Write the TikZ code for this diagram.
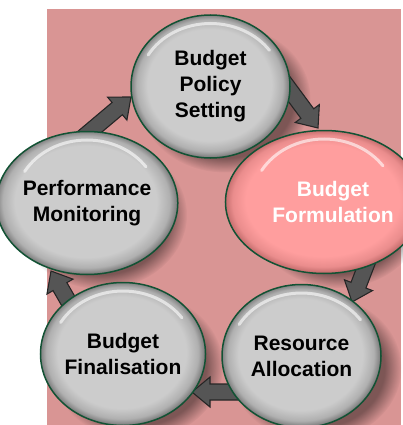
\documentclass[tikz,border=0pt]{standalone}
\usepackage{fontspec}
\setmainfont{Liberation Sans}
\usetikzlibrary{shapes.geometric,calc,fadings}
\definecolor{bgpink}{RGB}{217,149,148}
\definecolor{ballgray}{RGB}{204,204,204}
\definecolor{balldark}{RGB}{110,110,110}
\definecolor{pinkball}{RGB}{255,158,158}
\definecolor{pinkdark}{RGB}{185,100,100}
\definecolor{rimgreen}{RGB}{18,82,52}
\definecolor{arrowgray}{RGB}{85,85,85}
\pgfdeclareradialshading{grayball}{\pgfpoint{-1bp}{1.5bp}}{color(0bp)=(ballgray); color(19.5bp)=(ballgray); color(23bp)=(ballgray!70!balldark); color(25.5bp)=(balldark); color(30bp)=(balldark)}
\pgfdeclareradialshading{pinkballsh}{\pgfpoint{-1bp}{1.5bp}}{color(0bp)=(pinkball); color(19.5bp)=(pinkball); color(23bp)=(pinkball!70!pinkdark); color(25.5bp)=(pinkdark); color(30bp)=(pinkdark)}
\newcommand\blockarr[2]{%
  \path ($(#2)!18pt!(#1)$) coordinate (hb);
  \draw[blockarrow] ($(#1)!8pt!-90:(#2)$) -- ($(hb)!8pt!-90:(#2)$) -- ($(hb)!15pt!-90:(#2)$) -- (#2)
    -- ($(hb)!15pt!90:(#2)$) -- ($(hb)!8pt!90:(#2)$) -- ($(#1)!8pt!90:(#2)$) -- cycle;}
\newcommand\ballshine[1]{%
  \draw[white,opacity=.6,line width=3pt,line cap=round]
    ($(#1.center)+(150:72pt and 63pt)$) arc[start angle=150,end angle=35,x radius=72pt,y radius=63pt];}
\tikzset{
  ball/.style={ellipse,minimum width=159pt,minimum height=143pt,inner sep=0pt,
    draw=rimgreen,line width=1.5pt,shading=grayball,align=center,
    font=\bfseries\fontsize{21}{26}\selectfont,text=black},
  pinkb/.style={ball,shading=pinkballsh,text=white},
  blockarrow/.style={fill=arrowgray,draw=black!85,line width=1.1pt,line join=miter},
  ballshade/.style={black,opacity=.42,path fading=circle with fuzzy edge 20 percent}
}
\begin{document}
\begin{tikzpicture}[x=1pt,y=-1pt]
\useasboundingbox (0,0) rectangle (403,425);
\fill[bgpink] (47,9) rectangle (401,425);
% centres of the five balls
\coordinate (c1) at (210.5,86.5);
\coordinate (c2) at (324,202);
\coordinate (c3) at (301.5,356);
\coordinate (c4) at (123,354);
\coordinate (c5) at (87,203);
% shadows
\foreach \c in {c1,c2,c3,c4,c5}{
  \fill[ballshade] ($(\c)+(14pt,-12pt)$) ellipse[x radius=86pt,y radius=74pt];}
% arrows
\coordinate (a1s) at (278,74);  \coordinate (a1t) at (318,128);
\coordinate (a2s) at (372,250); \coordinate (a2t) at (352,302);
\coordinate (a3s) at (245,392); \coordinate (a3t) at (192,392);
\coordinate (a4s) at (78,318);  \coordinate (a4t) at (51,271);
\coordinate (a5s) at (80,140);  \coordinate (a5t) at (131,97);
\blockarr{a1s}{a1t}
\blockarr{a2s}{a2t}
\blockarr{a3s}{a3t}
\blockarr{a4s}{a4t}
\blockarr{a5s}{a5t}
% balls
\node[ball] (policy) at (c1) {Budget\\Policy\\Setting};
\node[pinkb] (form) at (c2) {\hspace*{18pt}Budget\\\hspace*{18pt}Formulation};
\node[ball] (alloc) at (c3) {Resource\\Allocation};
\node[ball] (final) at (c4) {Budget\\Finalisation};
\node[ball] (perf) at (c5) {Performance\\Monitoring};
\ballshine{policy}
\ballshine{form}
\ballshine{alloc}
\ballshine{final}
\ballshine{perf}
\end{tikzpicture}
\end{document}
